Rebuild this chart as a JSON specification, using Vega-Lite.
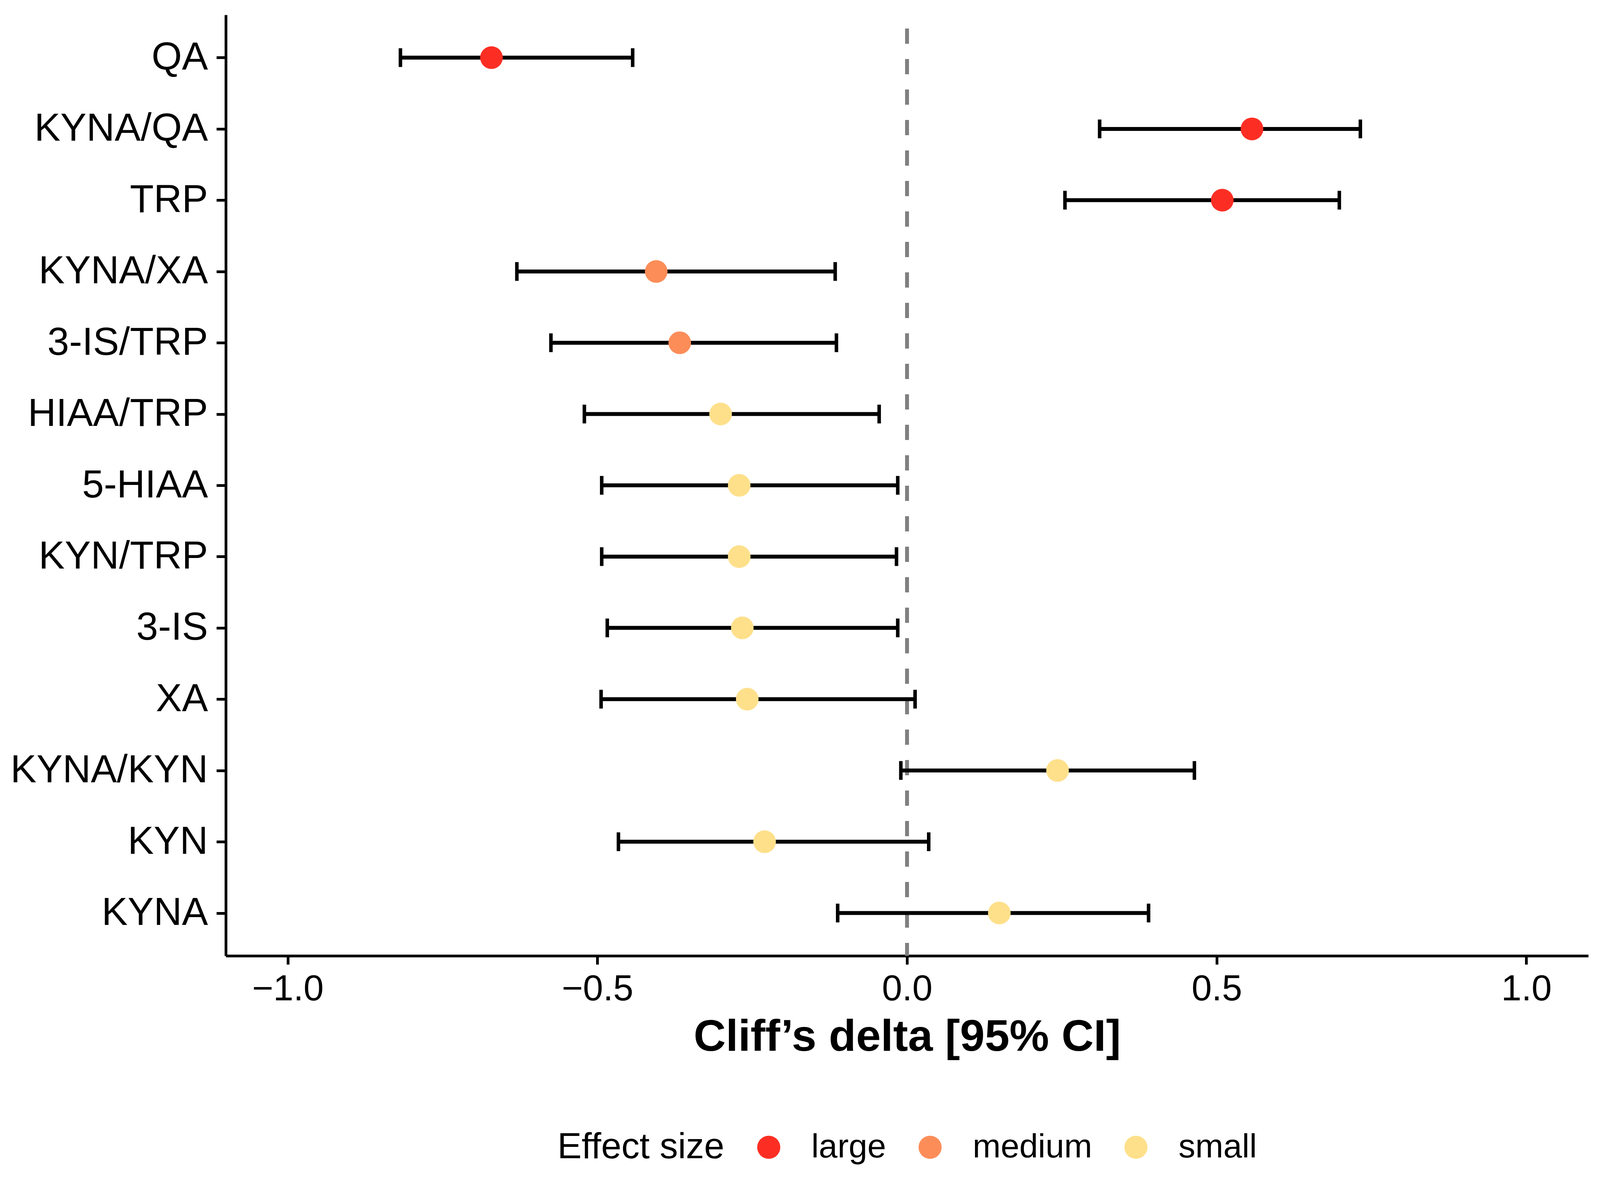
{
  "$schema": "https://vega.github.io/schema/vega-lite/v6.json",
  "width": 3488,
  "height": 2408,
  "autosize": {"type": "none"},
  "padding": {"left": 578, "top": 38, "right": 58, "bottom": 584},
  "background": "white",
  "config": {
    "font": "Liberation Sans",
    "view": {"stroke": null},
    "axis": {
      "domainColor": "black",
      "domainWidth": 7,
      "tickColor": "black",
      "tickWidth": 7,
      "labelColor": "black",
      "labelLimit": 0,
      "titleColor": "black",
      "grid": false
    },
    "legend": {
      "layout": {"bottom": {"anchor": "middle"}}
    }
  },
  "data": {
    "values": [
      {"name": "QA", "effect": "large", "delta": -0.671, "lo": -0.818, "hi": -0.443},
      {"name": "KYNA/QA", "effect": "large", "delta": 0.557, "lo": 0.311, "hi": 0.732},
      {"name": "TRP", "effect": "large", "delta": 0.509, "lo": 0.255, "hi": 0.698},
      {"name": "KYNA/XA", "effect": "medium", "delta": -0.405, "lo": -0.630, "hi": -0.116},
      {"name": "3-IS/TRP", "effect": "medium", "delta": -0.367, "lo": -0.575, "hi": -0.114},
      {"name": "HIAA/TRP", "effect": "small", "delta": -0.301, "lo": -0.521, "hi": -0.045},
      {"name": "5-HIAA", "effect": "small", "delta": -0.271, "lo": -0.493, "hi": -0.015},
      {"name": "KYN/TRP", "effect": "small", "delta": -0.271, "lo": -0.493, "hi": -0.017},
      {"name": "3-IS", "effect": "small", "delta": -0.266, "lo": -0.484, "hi": -0.015},
      {"name": "XA", "effect": "small", "delta": -0.258, "lo": -0.494, "hi": 0.013},
      {"name": "KYNA/KYN", "effect": "small", "delta": 0.243, "lo": -0.010, "hi": 0.464},
      {"name": "KYN", "effect": "small", "delta": -0.230, "lo": -0.466, "hi": 0.035},
      {"name": "KYNA", "effect": "small", "delta": 0.149, "lo": -0.112, "hi": 0.390}
    ]
  },
  "encoding": {
    "y": {
      "field": "name",
      "type": "nominal",
      "sort": ["QA", "KYNA/QA", "TRP", "KYNA/XA", "3-IS/TRP", "HIAA/TRP", "5-HIAA", "KYN/TRP", "3-IS", "XA", "KYNA/KYN", "KYN", "KYNA"],
      "scale": {"type": "point", "padding": 0.6},
      "axis": {"title": null, "tickSize": 24, "labelPadding": 22, "labelFontSize": 100}
    }
  },
  "layer": [
    {
      "data": {"values": [{"z": 0}]},
      "mark": {"type": "rule", "color": "#808080", "strokeWidth": 10, "strokeDash": [39, 39], "strokeDashOffset": 43},
      "encoding": {
        "y": null,
        "x": {"field": "z", "type": "quantitative"}
      }
    },
    {
      "mark": {"type": "rule", "color": "black", "strokeWidth": 10},
      "encoding": {
        "x": {
          "field": "lo",
          "type": "quantitative",
          "scale": {"domain": [-1.1, 1.1], "nice": false, "zero": false},
          "axis": {
            "title": "Cliff’s delta [95% CI]",
            "titleFontSize": 114,
            "titleFontWeight": "bold",
            "titlePadding": 20,
            "values": [-1, -0.5, 0, 0.5, 1],
            "format": ".1f",
            "tickSize": 22,
            "labelPadding": 18,
            "labelFontSize": 93
          }
        },
        "x2": {"field": "hi"}
      }
    },
    {
      "mark": {"type": "tick", "color": "black", "size": 48, "thickness": 9, "opacity": 1},
      "encoding": {"x": {"field": "lo", "type": "quantitative"}}
    },
    {
      "mark": {"type": "tick", "color": "black", "size": 48, "thickness": 9, "opacity": 1},
      "encoding": {"x": {"field": "hi", "type": "quantitative"}}
    },
    {
      "mark": {"type": "circle", "size": 3364, "opacity": 1},
      "encoding": {
        "x": {"field": "delta", "type": "quantitative"},
        "color": {
          "field": "effect",
          "type": "nominal",
          "scale": {"domain": ["large", "medium", "small"], "range": ["#FC2E24", "#FC8D59", "#FEE08B"]},
          "legend": {
            "title": "Effect size",
            "orient": "bottom",
            "direction": "horizontal",
            "titleOrient": "left",
            "titleFontSize": 93,
            "titleFontWeight": "normal",
            "titleColor": "black",
            "titlePadding": 70,
            "titleLimit": 0,
            "labelFontSize": 86,
            "labelColor": "black",
            "labelLimit": 0,
            "labelOffset": 66,
            "columnPadding": 69,
            "symbolType": "circle",
            "symbolSize": 3500,
            "symbolOpacity": 1,
            "symbolStrokeWidth": 0,
            "offset": 182
          }
        }
      }
    }
  ]
}
